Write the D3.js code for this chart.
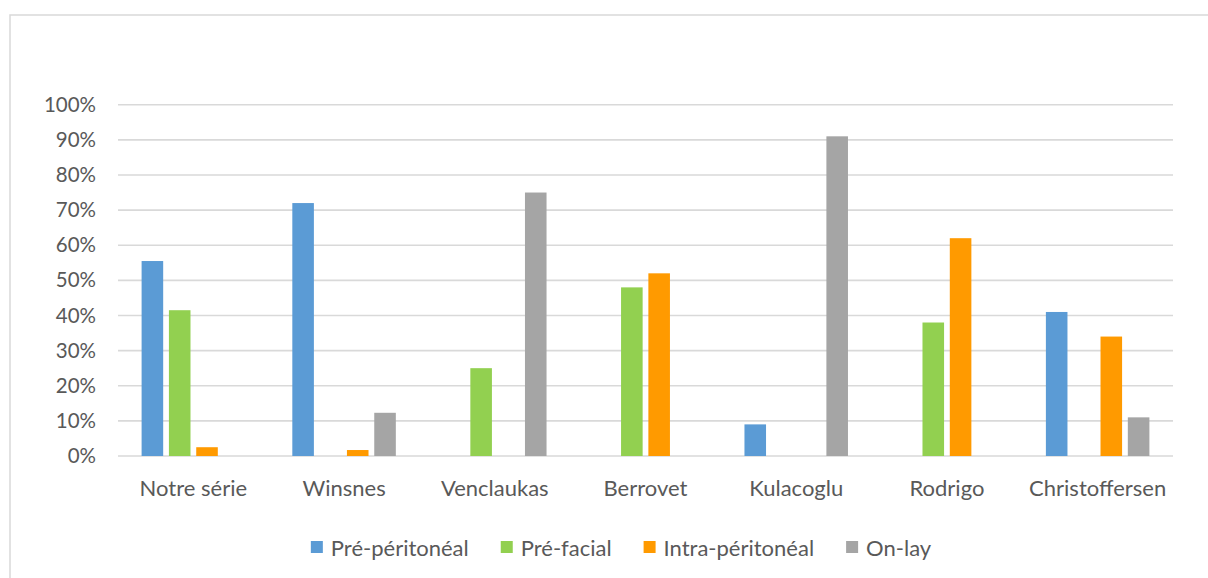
<!DOCTYPE html>
<html>
<head>
<meta charset="utf-8">
<script src="https://cdn.jsdelivr.net/npm/d3@7"></script>
<style>
  html, body { margin: 0; padding: 0; background: #fff; }
  svg { display: block; }
</style>
</head>
<body>
<svg id="chart" width="1208" height="578"></svg>
<script>
const categories = ["Notre série", "Winsnes", "Venclaukas", "Berrovet", "Kulacoglu", "Rodrigo", "Christoffersen"];
const seriesNames = ["Pré-péritonéal", "Pré-facial", "Intra-péritonéal", "On-lay"];
const prePeritoneal = [55.5, 72, 0, 0, 9, 0, 41];
const preFacial = [41.5, 0, 25, 48, 0, 38, 0];
const intraPeritoneal = [2.5, 1.7, 0, 52, 0, 62, 34];
const onLay = [0, 12.3, 75, 0, 91, 0, 11];
const seriesColors = ["#5B9BD5", "#92D050", "#FF9A00", "#A5A5A5"];
const yTicks = [0, 10, 20, 30, 40, 50, 60, 70, 80, 90, 100];

const seriesValues = [prePeritoneal, preFacial, intraPeritoneal, onLay];
const FONT = "Lato, 'Open Sans', sans-serif";
const TEXT = "#595959";

const svg = d3.select("#chart");

// outer chart border (only top & left visible)
svg.append("rect")
  .attr("x", 10).attr("y", 15)
  .attr("width", 1240).attr("height", 600)
  .attr("fill", "#fff")
  .attr("stroke", "#D9D9D9").attr("stroke-width", 1.5);

const plot = { left: 118, right: 1173, top: 104.7, bottom: 456 };

const y = d3.scaleLinear().domain([0, 100]).range([plot.bottom, plot.top]);
const x0 = d3.scaleBand().domain(categories).range([plot.left, plot.right]).paddingInner(0).paddingOuter(0);
const groupW = x0.step() * (103.5 / 150.7);
const x1 = d3.scaleBand().domain(d3.range(seriesNames.length)).range([0, groupW]).paddingInner(0.21).paddingOuter(0);

// gridlines
svg.append("g").selectAll("line").data(yTicks).join("line")
  .attr("x1", plot.left).attr("x2", plot.right)
  .attr("y1", d => y(d)).attr("y2", d => y(d))
  .attr("stroke", "#D9D9D9").attr("stroke-width", 1.6);

// y axis labels
const yAxis = d3.axisLeft(y).tickValues(yTicks).tickFormat(d => d + "%").tickSize(0).tickPadding(0);
const gy = svg.append("g").attr("transform", `translate(96,0)`).call(yAxis);
gy.select(".domain").remove();
gy.selectAll("text").attr("font-family", FONT).attr("font-size", 20.5).attr("fill", TEXT);

// bars
const groups = svg.append("g").selectAll("g").data(categories).join("g")
  .attr("transform", d => `translate(${x0(d) + (x0.bandwidth() - groupW) / 2},0)`);
groups.selectAll("rect")
  .data((c, i) => seriesValues.map((s, k) => ({ k, v: s[i] })))
  .join("rect")
  .filter(d => d.v > 0)
  .attr("x", d => x1(d.k))
  .attr("width", x1.bandwidth())
  .attr("y", d => y(d.v))
  .attr("height", d => y(0) - y(d.v))
  .attr("fill", d => seriesColors[d.k]);

// x axis labels
const xAxis = d3.axisBottom(x0).tickSize(0).tickPadding(0);
const gx = svg.append("g").attr("transform", `translate(0,${plot.bottom + 24})`).call(xAxis);
gx.select(".domain").remove();
gx.selectAll("text").attr("font-family", FONT).attr("font-size", 22).attr("fill", TEXT).attr("dy", "0.71em");

// legend
const legend = svg.append("g");
const items = legend.selectAll("g").data(seriesNames).join("g");
items.append("rect").attr("width", 12).attr("height", 12).attr("y", -12)
  .attr("fill", (d, i) => seriesColors[i]);
items.append("text").attr("x", 20).attr("y", 0).attr("dy", "0.15em")
  .attr("font-family", FONT).attr("font-size", 22).attr("fill", TEXT)
  .text(d => d);
let offs = [], cur = 0;
items.each(function () {
  offs.push(cur);
  const w = d3.select(this).select("text").node().getComputedTextLength();
  cur += 20 + w + 32;
});
const totalW = cur - 32;
const lx = 621 - totalW / 2;
items.attr("transform", (d, i) => `translate(${lx + offs[i]},553)`);
</script>
</body>
</html>
